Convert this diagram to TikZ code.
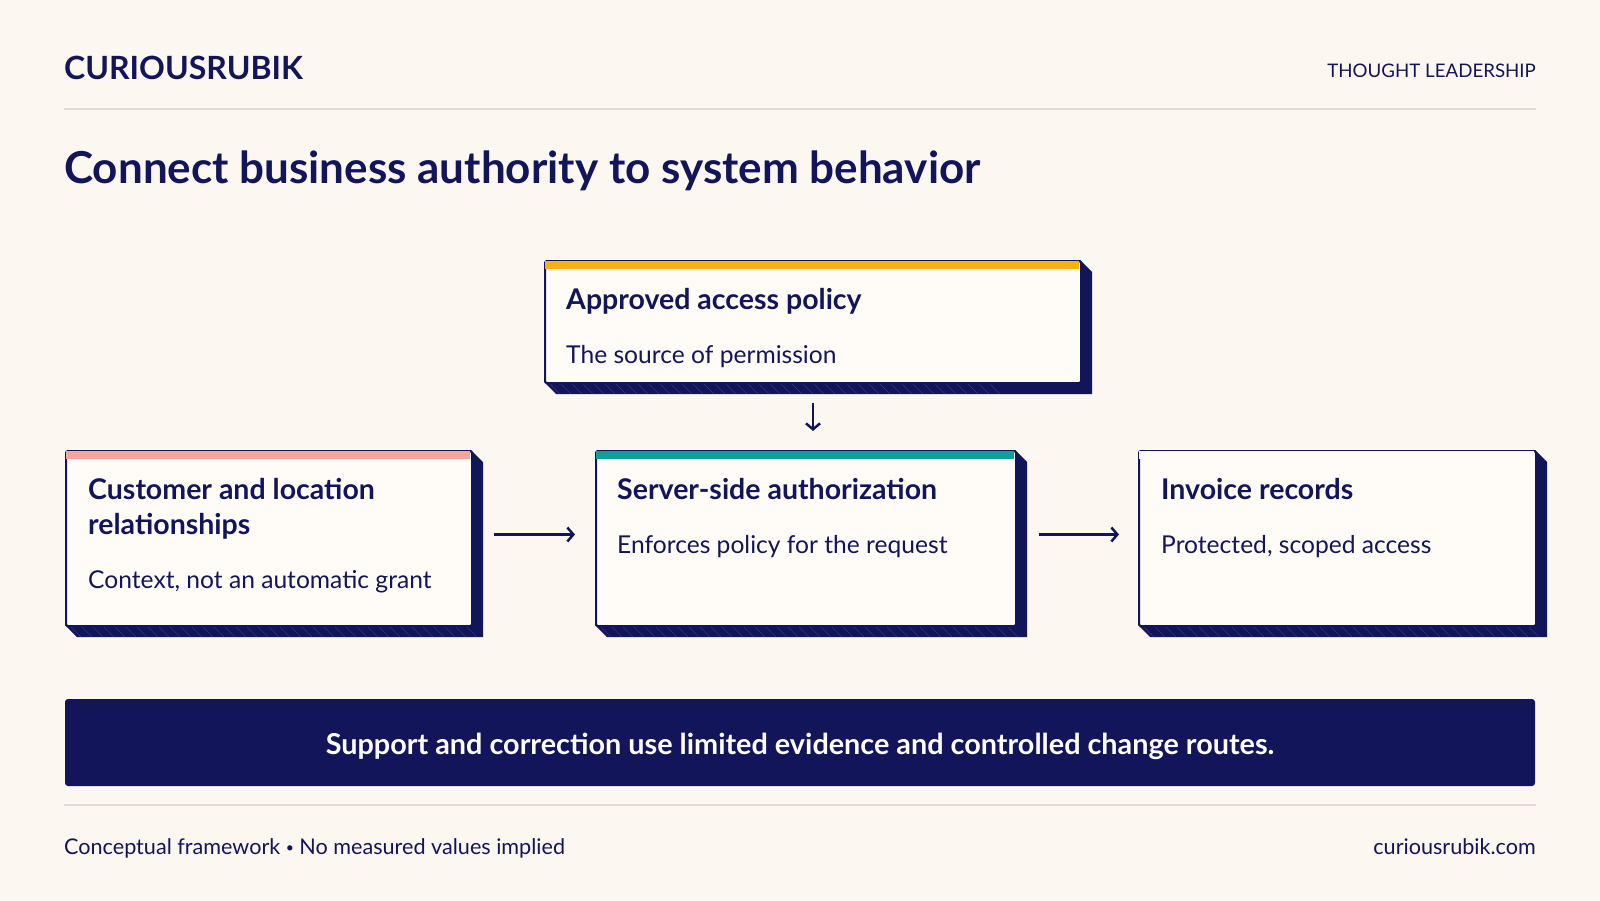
\documentclass[tikz,border=0pt]{standalone}
\usepackage{fontspec}
\setmainfont{Lato}
\usepackage{tikz}
\usetikzlibrary{arrows.meta, positioning}

\definecolor{paper}{HTML}{FDF7F1}
\definecolor{ink}{HTML}{13155A}
\definecolor{inkhatch}{HTML}{34367A}
\definecolor{cardbg}{HTML}{FFFCF8}
\definecolor{rulegrey}{HTML}{DEDAD8}
\definecolor{amber}{HTML}{F9B114}
\definecolor{coral}{HTML}{F6A49C}
\definecolor{teal}{HTML}{0E9E9C}

\tikzset{
  card/.style={draw=ink, line width=2pt, fill=cardbg, rounded corners=1.5pt, anchor=north west, inner sep=0pt},
  cardhead/.style={anchor=base west, inner sep=0pt, text=ink, font=\fontsize{28.5}{35}\selectfont\bfseries, align=left},
  cardsub/.style={anchor=base west, inner sep=0pt, text=ink, font=\fontsize{24.6}{30}\selectfont},
  flow/.style={draw=ink, line width=2.5pt, -{Straight Barb[length=6pt, width=14pt]}},
  hatch/.style={draw=inkhatch, line width=0.6pt},
  hairline/.style={draw=rulegrey, line width=2pt},
  footnote/.style={inner sep=0pt, text=ink, font=\fontsize{21.6}{26}\selectfont},
}

% card with extruded slab and coloured top bar: name, x, y, w, h, bar colour
\newcommand{\slab}[6]{%
  \fill[ink] (#2+#4,#3) -- ++(12,12) -- ++(0,#5) -- ++(-#4,0) -- ++(-12,-12) -- cycle;
  \begin{scope}
    \clip (#2,#3+#5) -- ++(#4,0) -- ++(12,12) -- ++(-#4,0) -- cycle;
    \foreach \i in {0,...,40}
      \draw[hatch] (#2+4+11*\i,#3+#5) -- ++(12,12);
  \end{scope}
  \node[card, minimum width=#4, minimum height=#5] (#1) at (#2,#3) {};
  \fill[#6] (#2+1,#3+1) rectangle (#2+#4-1,#3+9);
}

\begin{document}
\begin{tikzpicture}[x=1pt, y=-1pt]
  \fill[paper] (0,0) rectangle (1600,900);
  \useasboundingbox (0,0) rectangle (1600,900);
  % header
  \node[anchor=base west, inner sep=0pt, text=ink, font=\fontsize{32}{38}\selectfont\bfseries] (brand) at (64,79) {CURIOUSRUBIK};
  \node[anchor=base east, inner sep=0pt, text=ink, font=\fontsize{18.7}{24}\selectfont] (tag) at (1536,77) {THOUGHT LEADERSHIP};
  \draw[hairline] (64,109) -- (1536,109);
  \node[anchor=base west, inner sep=0pt, text=ink, font=\fontsize{44}{52}\selectfont\bfseries] (title) at (64,183) {Connect business authority to system behavior};
  % cards
  \slab{policy}{544}{260}{536}{122}{amber}
  \slab{context}{65}{450}{406}{175}{coral}
  \slab{auth}{595}{450}{420}{175}{teal}
  \slab{invoice}{1138}{450}{397}{175}{cardbg}
  \node[cardhead] (policy-t) at (566,309) {Approved access policy};
  \node[cardsub] (policy-s) at (566,363) {The source of permission};
  \node[cardhead] (context-t) at (88,534) {Customer and location\\relationships};
  \node[cardsub] (context-s) at (88,588) {Context, not an automatic grant};
  \node[cardhead] (auth-t) at (617,499) {Server-side authorization};
  \node[cardsub] (auth-s) at (617,553) {Enforces policy for the request};
  \node[cardhead] (invoice-t) at (1161,499) {Invoice records};
  \node[cardsub] (invoice-s) at (1161,553) {Protected, scoped access};
  % connectors
  \draw[flow, shorten <=19pt, shorten >=19pt] (policy.south) -- (policy.south |- auth.north);
  \draw[flow, shorten <=21pt, shorten >=20pt] ([yshift=4pt]context.east) -- ([yshift=4pt]auth.west);
  \draw[flow, shorten <=22pt, shorten >=19pt] ([yshift=4pt]auth.east) -- ([yshift=4pt]invoice.west);
  % banner
  \node[fill=ink, rounded corners=3pt, minimum width=1470, minimum height=87, inner sep=0pt, text height=24pt, text depth=0pt, text=white, font=\fontsize{28.8}{34}\selectfont\bfseries] (note) at (800,742.5) {Support and correction use limited evidence and controlled change routes.};
  % footer
  \draw[hairline] (64,805) -- (1536,805);
  \node[footnote, anchor=base west] (foot-l) at (64,854) {Conceptual framework \raisebox{2pt}{\fontsize{14}{14}\selectfont•} No measured values implied};
  \node[footnote, anchor=base east] (foot-r) at (1536,854) {curiousrubik.com};
\end{tikzpicture}
\end{document}
